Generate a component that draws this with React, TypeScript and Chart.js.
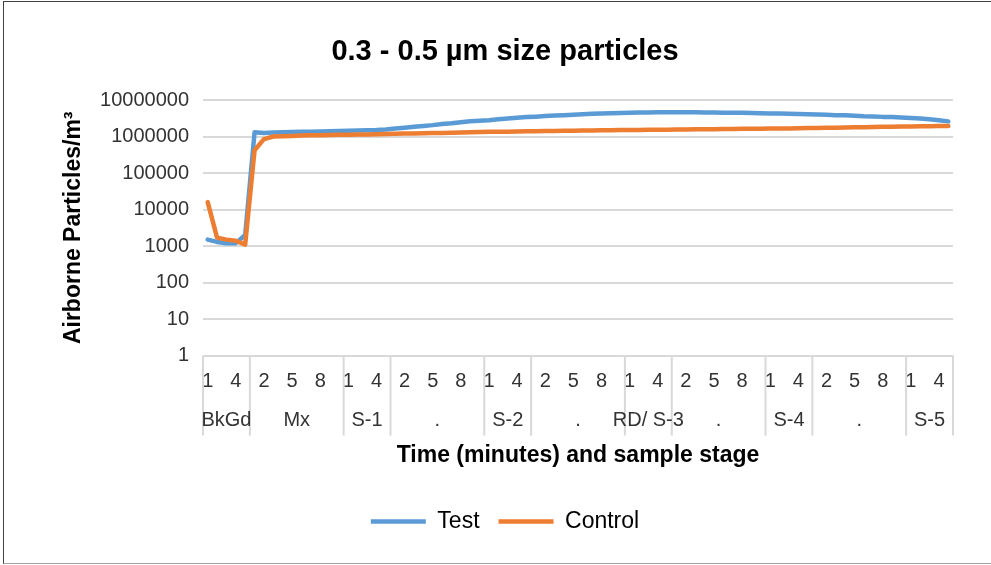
import React, { useEffect, useRef } from 'react';
import { Chart, registerables } from 'chart.js';

Chart.register(...registerables);

const groupNames = ['BkGd', 'Mx', 'S-1', '.', 'S-2', '.', 'RD/ S-3', '.', 'S-4', '.', 'S-5'];
const groupSizes = [5, 10, 5, 10, 5, 10, 5, 10, 5, 10, 5];

const minuteLabels = [
  '1', '2', '3', '4', '5',
  '1', '2', '3', '4', '5', '6', '7', '8', '9', '10',
  '1', '2', '3', '4', '5',
  '1', '2', '3', '4', '5', '6', '7', '8', '9', '10',
  '1', '2', '3', '4', '5',
  '1', '2', '3', '4', '5', '6', '7', '8', '9', '10',
  '1', '2', '3', '4', '5',
  '1', '2', '3', '4', '5', '6', '7', '8', '9', '10',
  '1', '2', '3', '4', '5',
  '1', '2', '3', '4', '5', '6', '7', '8', '9', '10',
  '1', '2', '3', '4', '5',
];

const yTickValues = [1, 10, 100, 1000, 10000, 100000, 1000000, 10000000];

const testValues = [
  1500, 1300, 1200, 1200, 2000,
  1300000, 1250000, 1280000, 1300000, 1320000, 1340000, 1360000, 1380000, 1400000, 1420000,
  1440000, 1460000, 1480000, 1500000, 1560000,
  1650000, 1750000, 1850000, 1950000, 2050000, 2200000, 2300000, 2450000, 2600000, 2700000,
  2800000, 2950000, 3100000, 3250000, 3400000,
  3500000, 3650000, 3750000, 3850000, 3950000, 4100000, 4200000, 4300000, 4350000, 4400000,
  4500000, 4550000, 4550000, 4600000, 4600000,
  4600000, 4600000, 4600000, 4550000, 4550000, 4500000, 4500000, 4450000, 4400000, 4350000,
  4300000, 4250000, 4200000, 4150000, 4100000,
  4000000, 3950000, 3850000, 3800000, 3700000, 3600000, 3550000, 3450000, 3400000, 3300000,
  3200000, 3100000, 2950000, 2800000, 2600000,
];

const controlValues = [
  16000, 1700, 1500, 1400, 1100,
  420000, 850000, 1000000, 1020000, 1040000, 1060000, 1080000, 1090000, 1100000, 1110000,
  1120000, 1130000, 1140000, 1150000, 1170000,
  1190000, 1200000, 1210000, 1230000, 1240000, 1250000, 1270000, 1280000, 1300000, 1320000,
  1340000, 1350000, 1360000, 1380000, 1390000,
  1400000, 1410000, 1420000, 1430000, 1440000, 1460000, 1470000, 1480000, 1490000, 1500000,
  1500000, 1510000, 1520000, 1530000, 1540000,
  1550000, 1560000, 1570000, 1580000, 1590000, 1600000, 1610000, 1620000, 1630000, 1640000,
  1650000, 1660000, 1670000, 1690000, 1700000,
  1720000, 1730000, 1750000, 1760000, 1780000, 1800000, 1820000, 1840000, 1850000, 1870000,
  1880000, 1900000, 1910000, 1930000, 1950000,
];

const FONT = '"Liberation Sans", Arial, sans-serif';

const groupPlugin = {
  id: 'groupAxis',
  afterDraw(chart: any) {
    const x = chart.scales.x;
    const area = chart.chartArea;
    const ctx = chart.ctx;
    const n = minuteLabels.length;
    const step = (x.right - x.left) / n;
    ctx.save();
    ctx.strokeStyle = '#d9d9d9';
    ctx.lineWidth = 2;
    let start = 0;
    const edges: number[] = [0];
    groupSizes.forEach((s) => { start += s; edges.push(start); });
    edges.forEach((e) => {
      const px = e < n ? x.getPixelForValue(e) - step / 2 : x.getPixelForValue(n - 1) + step / 2;
      ctx.beginPath();
      ctx.moveTo(px, area.bottom);
      ctx.lineTo(px, area.bottom + 80);
      ctx.stroke();
    });
    ctx.fillStyle = '#333333';
    ctx.font = `20px ${FONT}`;
    ctx.textAlign = 'center';
    ctx.textBaseline = 'middle';
    groupNames.forEach((name, gi) => {
      const a = edges[gi];
      const b = edges[gi + 1];
      const left = x.getPixelForValue(a) - step / 2;
      const right = x.getPixelForValue(b - 1) + step / 2;
      ctx.fillText(name, (left + right) / 2, area.bottom + 65);
    });
    ctx.restore();
  },
};

export default function App() {
  const ref = useRef<HTMLCanvasElement | null>(null);

  useEffect(() => {
    document.body.style.margin = '0';
    if (!ref.current) return;
    const chart = new Chart(ref.current, {
      type: 'line',
      data: {
        labels: minuteLabels,
        datasets: [
          {
            label: 'Test',
            data: testValues,
            borderColor: '#5B9BD5',
            backgroundColor: '#5B9BD5',
            borderWidth: 4.5,
            pointRadius: 0,
            borderCapStyle: 'round',
            borderJoinStyle: 'round',
            order: 1,
          },
          {
            label: 'Control',
            data: controlValues,
            borderColor: '#ED7D31',
            backgroundColor: '#ED7D31',
            borderWidth: 4.5,
            pointRadius: 0,
            borderCapStyle: 'round',
            borderJoinStyle: 'round',
            order: 0,
          },
        ],
      },
      options: {
        animation: false,
        responsive: false,
        maintainAspectRatio: false,
        layout: { padding: { left: 0, right: 0, top: 0, bottom: 20 } },
        plugins: {
          title: {
            display: true,
            text: '0.3 - 0.5 µm size particles',
            color: '#000000',
            font: { family: FONT, size: 29, weight: 'bold' },
            padding: { top: 33, bottom: 30.2 },
          },
          legend: {
            position: 'bottom',
            labels: {
              color: '#000000',
              font: { family: FONT, size: 23 },
              usePointStyle: true,
              pointStyle: 'line',
              pointStyleWidth: 55,
              padding: 19,
              sort: (a: any, b: any) => a.datasetIndex - b.datasetIndex,
            },
          },
          tooltip: { enabled: false },
        },
        scales: {
          x: {
            type: 'category',
            offset: true,
            grid: { display: false, drawTicks: false },
            border: { display: false },
            ticks: {
              autoSkip: false,
              maxRotation: 0,
              minRotation: 0,
              padding: 14,
              color: '#333333',
              font: { family: FONT, size: 20 },
              callback: (_v: any, i: number) => (i % 3 === 0 ? minuteLabels[i] : ''),
            },
            title: {
              display: true,
              text: 'Time (minutes) and sample stage',
              color: '#000000',
              font: { family: FONT, size: 23, weight: 'bold' },
              padding: { top: 0, bottom: 21.6 },
            },
            afterFit: (s: any) => { s.height = 135.4; },
          },
          y: {
            type: 'logarithmic',
            min: 1,
            max: 10000000,
            grid: { color: '#d9d9d9', lineWidth: 2, drawTicks: false },
            border: { display: false },
            afterBuildTicks: (s: any) => { s.ticks = yTickValues.map((v) => ({ value: v })); },
            ticks: {
              padding: 14,
              color: '#333333',
              font: { family: FONT, size: 20 },
              callback: (v: any) => String(v),
            },
            title: {
              display: true,
              text: 'Airborne Particles/m³',
              color: '#000000',
              font: { family: FONT, size: 23, weight: 'bold' },
              padding: { top: 56, bottom: 0 },
            },
            afterFit: (s: any) => { s.width = 199; },
          },
          yRight: {
            type: 'linear',
            position: 'right',
            display: true,
            grid: { display: false, drawTicks: false },
            border: { display: false },
            ticks: { display: false },
            afterFit: (s: any) => { s.width = 53; },
          },
        },
      },
      plugins: [groupPlugin],
    });
    return () => chart.destroy();
  }, []);

  return (
    <div
      style={{
        position: 'absolute',
        left: 3,
        top: 1,
        width: 987,
        height: 561,
        overflow: 'hidden',
        borderLeft: '1px solid #404040',
        borderTop: '1px solid #404040',
        borderBottom: '1px solid #a0a0a0',
        background: '#ffffff',
      }}
    >
      <canvas ref={ref} width={1002} height={561} style={{ display: 'block' }} />
    </div>
  );
}
